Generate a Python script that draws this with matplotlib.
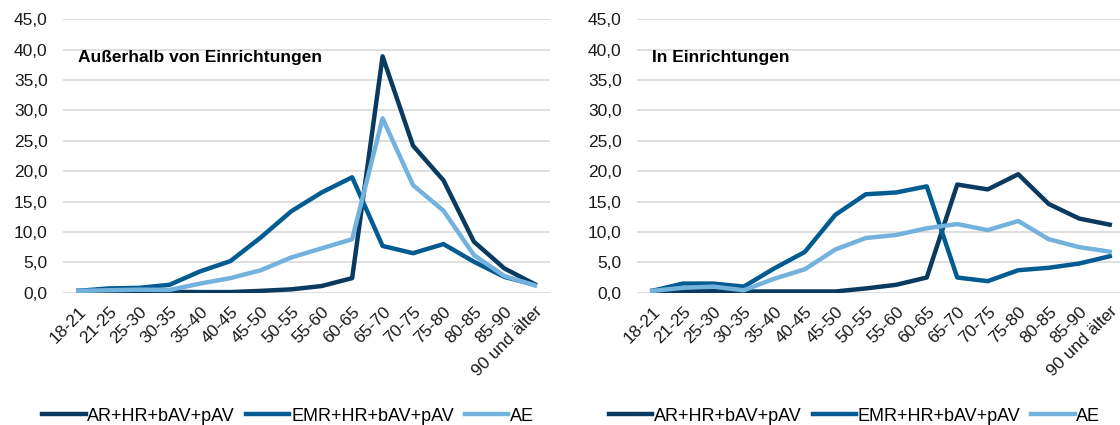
import numpy as np
import matplotlib
matplotlib.use("Agg")
import matplotlib.pyplot as plt
from matplotlib.ticker import FuncFormatter, MultipleLocator

plt.rcParams['font.family'] = ['Liberation Sans', 'DejaVu Sans']

# Altersgruppen
categories = ["18-21", "21-25", "25-30", "30-35", "35-40", "40-45", "45-50", "50-55",
              "55-60", "60-65", "65-70", "70-75", "75-80", "80-85", "85-90", "90 und älter"]
series_names = ["AR+HR+bAV+pAV", "EMR+HR+bAV+pAV", "AE"]

# Außerhalb von Einrichtungen
out_ar = [0.3, 0.2, 0.2, 0.15, 0.1, 0.1, 0.3, 0.55, 1.1, 2.4, 38.9, 24.2, 18.5, 8.4, 4.0, 1.4]
out_emr = [0.3, 0.7, 0.8, 1.3, 3.5, 5.2, 9.1, 13.4, 16.5, 19.0, 7.7, 6.5, 8.0, 5.1, 2.6, 1.3]
out_ae = [0.3, 0.4, 0.5, 0.45, 1.5, 2.4, 3.7, 5.8, 7.3, 8.8, 28.7, 17.7, 13.5, 6.2, 2.75, 1.2]

# In Einrichtungen
in_ar = [0.3, 0.3, 0.3, 0.2, 0.2, 0.2, 0.2, 0.7, 1.3, 2.5, 17.8, 17.0, 19.5, 14.6, 12.2, 11.2]
in_emr = [0.3, 1.5, 1.5, 1.0, 4.0, 6.7, 12.8, 16.2, 16.5, 17.5, 2.5, 1.9, 3.7, 4.1, 4.8, 6.0]
in_ae = [0.3, 0.8, 1.0, 0.4, 2.3, 3.85, 7.1, 9.0, 9.5, 10.6, 11.3, 10.3, 11.8, 8.8, 7.5, 6.75]

colors = ["#0A3A5F", "#035C91", "#74B2DE"]

fig = plt.figure(figsize=(11.2, 4.25), dpi=100)
ax1 = fig.add_axes([0.05625, 0.3113, 0.4348, 0.6433])
ax2 = fig.add_axes([0.56875, 0.3113, 0.4357, 0.6433])

x = np.arange(len(categories))
comma = FuncFormatter(lambda v, p: ("%.1f" % v).replace(".", ","))


def draw(ax, data, title, leg_x):
    for vals, c, name in zip(data, colors, series_names):
        ax.plot(x, vals, color=c, lw=3.2, label=name, solid_joinstyle='round')
    ax.set_xlim(-0.5, len(categories) - 0.5)
    ax.set_ylim(0, 45)
    ax.yaxis.set_major_locator(MultipleLocator(5))
    ax.yaxis.set_major_formatter(comma)
    ax.grid(axis='y', color='#D9D9D9', lw=1.2)
    ax.set_axisbelow(True)
    for s in ax.spines.values():
        s.set_visible(False)
    ax.tick_params(axis='both', length=0, labelsize=12.5, colors='#1a1a1a')
    ax.tick_params(axis='y', pad=11)
    ax.set_xticks(x)
    ax.set_xticklabels(categories, rotation=45, ha='right', va='top',
                       rotation_mode='anchor')
    ax.tick_params(axis='x', pad=8)
    ax.text(0.03, 0.86, title, transform=ax.transAxes, fontsize=12.5,
            fontweight='bold', va='center', ha='left')
    ax.legend(loc='center', bbox_to_anchor=(leg_x, -0.452), ncol=3, frameon=False,
              fontsize=13, handlelength=2.4, columnspacing=0.6, handletextpad=0.1,
              borderpad=0)


draw(ax1, [out_ar, out_emr, out_ae], "Außerhalb von Einrichtungen", 0.462)
draw(ax2, [in_ar, in_emr, in_ae], "In Einrichtungen", 0.446)

fig.savefig("out.png", dpi=100)
